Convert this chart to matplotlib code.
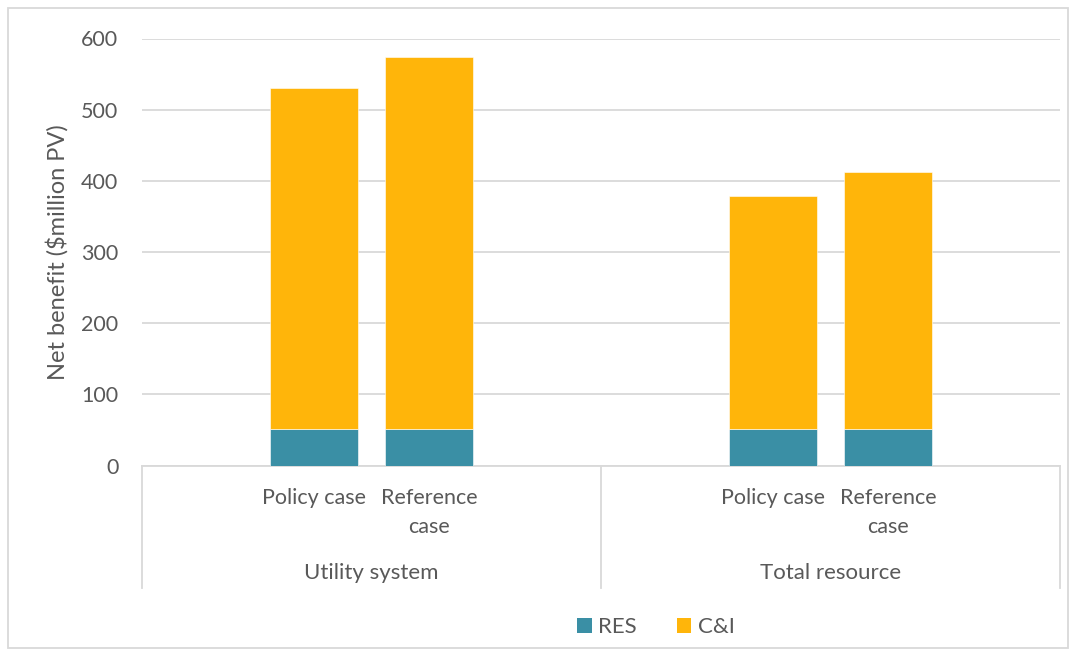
import matplotlib
matplotlib.use("Agg")
import matplotlib.pyplot as plt
from matplotlib.patches import Patch, Rectangle
from matplotlib.lines import Line2D

plt.rcParams['font.family'] = ['Lato', 'DejaVu Sans']

# Data
groups = ["Utility system", "Total resource"]
cases = ["Policy case", "Reference\ncase"]
res_values = [51, 51, 51, 51]
ci_values = [479, 523, 328, 361]
series_names = ["RES", "C&I"]
y_ticks = [0, 100, 200, 300, 400, 500, 600]

RES_COLOR = "#3A8FA5"
CI_COLOR = "#FFB50A"
TEXT_COLOR = "#595959"
GRID_COLOR = "#D9D9D9"
FS = 15.5

W, H = 1076, 656
fig = plt.figure(figsize=(W / 100, H / 100), dpi=100)

# plot area in pixel coordinates
left, right, top, bottom = 142, 1060, 38.5, 465.5
ax = fig.add_axes([left / W, 1 - bottom / H, (right - left) / W, (bottom - top) / H])

# each group occupies four slots; bars sit in the two middle ones
slots_per_group = 4
positions = []
for g in range(len(groups)):
    for c in range(len(cases)):
        positions.append(g * slots_per_group + 1.5 + c)
bar_w = 0.767

ax.bar(positions, res_values, width=bar_w, color=RES_COLOR, edgecolor="white", linewidth=0.4, zorder=3)
ax.bar(positions, ci_values, width=bar_w, bottom=res_values, color=CI_COLOR,
       edgecolor="white", linewidth=0.4, zorder=3)

ax.set_xlim(0, slots_per_group * len(groups))
ax.set_ylim(0, 600)
ax.set_yticks(y_ticks)
ax.set_yticklabels([str(v) for v in y_ticks], fontsize=FS, color=TEXT_COLOR)
ax.yaxis.grid(True, color=GRID_COLOR, linewidth=1.3, zorder=0)
ax.tick_params(axis="y", length=0, pad=17)

ax.set_xticks(positions)
ax.set_xticklabels(cases * len(groups), fontsize=FS, color=TEXT_COLOR, linespacing=1.6)
ax.tick_params(axis="x", length=0, pad=16)

for s in ["top", "right", "left"]:
    ax.spines[s].set_visible(False)
ax.spines["bottom"].set_color(GRID_COLOR)
ax.spines["bottom"].set_linewidth(1.3)
ax.set_axisbelow(True)

ax.set_ylabel("Net benefit ($million PV)", fontsize=17, color=TEXT_COLOR, labelpad=9)

# multi-level category separators and group labels
trans = ax.get_xaxis_transform()
sep_depth = -(588 - bottom) / (bottom - top)
for g in range(len(groups) + 1):
    ax.add_line(Line2D([g * slots_per_group] * 2, [0, sep_depth], transform=trans,
                       color=GRID_COLOR, linewidth=1.3, clip_on=False))
group_y = -(573 - bottom) / (bottom - top)
for g, name in enumerate(groups):
    ax.text(g * slots_per_group + slots_per_group / 2, group_y, name, transform=trans,
            ha="center", va="center", fontsize=FS + 0.5, color=TEXT_COLOR)

# legend
handles = [Patch(facecolor=RES_COLOR), Patch(facecolor=CI_COLOR)]
fig.legend(handles, series_names, loc="center", bbox_to_anchor=(656 / W, 1 - 627 / H),
           ncol=2, frameon=False, fontsize=FS + 0.5, handlelength=0.65, handleheight=0.65,
           handletextpad=0.3, columnspacing=1.8, labelcolor=TEXT_COLOR)

# chart border
fig.patches.append(Rectangle((8 / W, 8 / H), (1068 - 8) / W, (648 - 8) / H,
                             transform=fig.transFigure, fill=False,
                             edgecolor=GRID_COLOR, linewidth=1.3))

fig.savefig("out.png", dpi=100)
